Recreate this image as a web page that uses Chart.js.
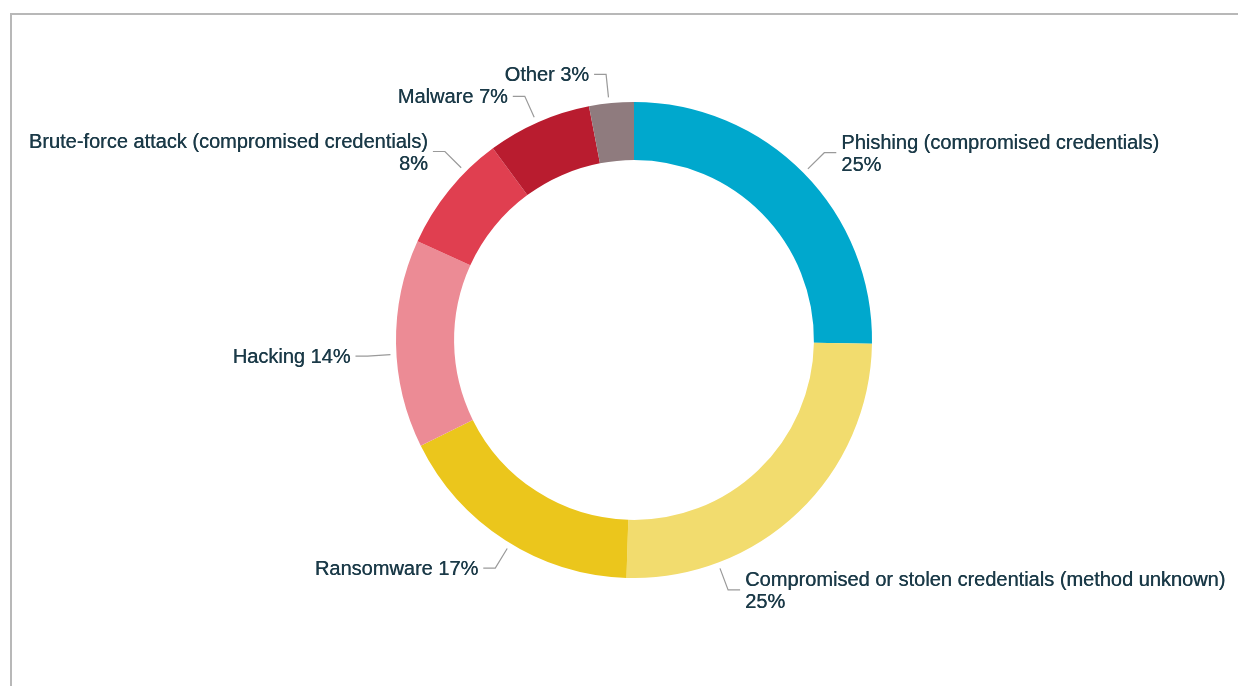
<!DOCTYPE html>
<html>
<head>
<meta charset="utf-8">
<script src="https://cdn.jsdelivr.net/npm/chart.js@4/dist/chart.umd.min.js"></script>
<style>
  html, body { margin: 0; padding: 0; background: #ffffff; }
  body { width: 1238px; height: 686px; position: relative; overflow: hidden; }
  #frame {
    position: absolute; left: 10px; top: 13px; right: -10px; bottom: -10px;
    border-top: 2px solid #b8b8b8; border-left: 2px solid #b8b8b8;
  }
  #wrap { position: absolute; left: 0; top: 0; width: 1238px; height: 686px; }
</style>
</head>
<body>
<div id="frame"></div>
<div id="wrap"><canvas id="chart" width="1238" height="686"></canvas></div>
<script>
// Attack vectors and their share of incidents (%)
const categories = [
  'Phishing (compromised credentials)',
  'Compromised or stolen credentials (method unknown)',
  'Ransomware',
  'Hacking',
  'Brute-force attack (compromised credentials)',
  'Malware',
  'Other'
];
const shares = [25, 25, 17, 14, 8, 7, 3];
const sliceColors = ['#00a8cd', '#f2dc6e', '#ebc61c', '#ec8b95', '#e03f50', '#b91c2f', '#8f7b7e'];

// Label placement: where along each slice the leader starts (0..1),
// and whether the percentage goes on a second line.
const leaderAt = [0.5, 0.753, 0.477, 0.45, 0.70, 0.48, 0.45];
const twoLine = [true, true, false, false, true, false, false];

const calloutPlugin = {
  id: 'callouts',
  afterDatasetsDraw(chart) {
    const ctx = chart.ctx;
    const meta = chart.getDatasetMeta(0);
    ctx.save();
    ctx.font = '20px "Liberation Sans", Arial, Helvetica, sans-serif';
    ctx.textBaseline = 'middle';
    meta.data.forEach((arc, i) => {
      const { x, y, startAngle, endAngle, outerRadius } = arc.getProps(
        ['x', 'y', 'startAngle', 'endAngle', 'outerRadius'], true);
      const a = startAngle + leaderAt[i] * (endAngle - startAngle);
      const r1 = outerRadius + 6;
      const r2 = outerRadius + 29;
      const p1x = x + Math.cos(a) * r1, p1y = y + Math.sin(a) * r1;
      const p2x = x + Math.cos(a) * r2, p2y = y + Math.sin(a) * r2;
      const dir = Math.cos(a) >= 0 ? 1 : -1;
      const p3x = p2x + dir * 12;

      ctx.strokeStyle = '#9a9a9a';
      ctx.lineWidth = 1.2;
      ctx.beginPath();
      ctx.moveTo(p1x, p1y);
      ctx.lineTo(p2x, p2y);
      ctx.lineTo(p3x, p2y);
      ctx.stroke();

      const pct = shares[i] + '%';
      const lines = twoLine[i] ? [categories[i], pct] : [categories[i] + ' ' + pct];
      const lh = 22;
      const tx = p3x + dir * 5;
      ctx.fillStyle = '#1b3a48';
      ctx.textAlign = dir > 0 ? 'left' : 'right';
      const y0 = p2y + 1.5 - (lines.length - 1) * lh / 2;
      lines.forEach((t, k) => {
        ctx.fillText(t, tx, y0 + k * lh);
        // slight second pass gives the heavier stroke of the label face
        ctx.fillText(t, tx + 0.3, y0 + k * lh);
      });
    });
    ctx.restore();
  }
};

new Chart(document.getElementById('chart'), {
  type: 'doughnut',
  data: {
    labels: categories,
    datasets: [{
      data: shares,
      backgroundColor: sliceColors,
      borderWidth: 0,
      hoverOffset: 0
    }]
  },
  options: {
    responsive: false,
    animation: false,
    cutout: '75.6%',
    layout: { padding: { left: 30, right: 0, top: 102, bottom: 108 } },
    plugins: {
      legend: { display: false },
      tooltip: { enabled: false }
    }
  },
  plugins: [calloutPlugin]
});
</script>
</body>
</html>
